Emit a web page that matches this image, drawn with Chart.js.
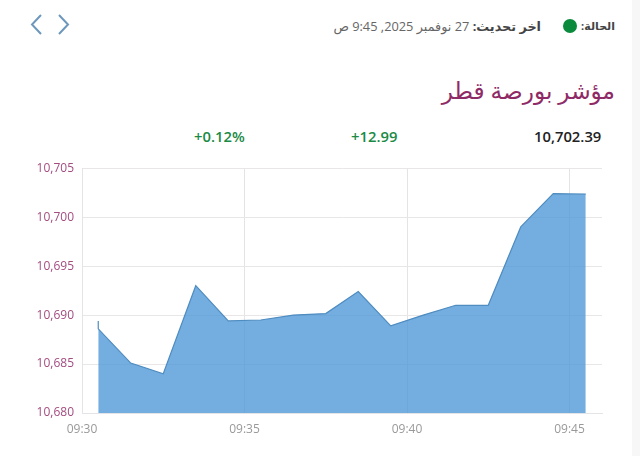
<!DOCTYPE html>
<html lang="ar">
<head>
<meta charset="utf-8">
<title>مؤشر بورصة قطر</title>
<script src="https://cdn.jsdelivr.net/npm/chart.js@4"></script>
<style>
    html, body { margin: 0; padding: 0; background: #fff; }
    body { width: 640px; height: 456px; position: relative; overflow: hidden; font-family: "Open Sans", "DejaVu Sans", sans-serif; }
    .scrollbar { position: absolute; left: 632px; top: 0; width: 8px; height: 456px; background: #f7f7f7; }
    .nav { position: absolute; left: 28px; top: 12px; }
    .status, .updated, .title, .stat { position: absolute; white-space: nowrap; }
    .status { right: 25px; top: 18px; font-size: 11px; color: #444; font-weight: bold; direction: rtl; }
    .dot { position: absolute; left: 563px; top: 19px; width: 14px; height: 14px; border-radius: 50%; background: #0a8a3c; }
    .updated { right: 99px; top: 17px; font-size: 12.800px; color: #666; direction: rtl; }
    .updated b { color: #444; }
    .title { right: 25px; top: 74px; font-size: 23.200px; color: #8e2a66; direction: rtl; }
    .stat { top: 126px; font-size: 14.800px; font-weight: 600; }
    #chart-wrap { position: absolute; left: 0; top: 153px; width: 632px; height: 292px; }
</style>
</head>
<body>
<div class="scrollbar"></div>
<svg class="nav" width="46" height="26" fill="none" stroke="#6d97bd" stroke-width="2">
    <path d="M13 3 L4 12.500 L13 22"/>
    <path d="M31 3 L40 12.500 L31 22"/>
</svg>
<div class="status">الحالة:</div>
<div class="dot"></div>
<div class="updated"><b>اخر تحديث:</b> 27 نوفمبر 2025, 9:45 ص</div>
<div class="title">مؤشر بورصة قطر</div>
<div class="stat" style="left:534px;color:#222">10,702.39</div>
<div class="stat" style="left:351px;color:#1a8a45">+12.99</div>
<div class="stat" style="left:194px;color:#1a8a45">+0.12%</div>
<div id="chart-wrap"><canvas id="chart"></canvas></div>

<script>
// Minutes since midnight for each reading
const times = [570.5, 570.5, 571.5, 572.5, 573.5, 574.5, 575.5, 576.5, 577.5, 578.5, 579.5, 580.5, 581.5, 582.5, 583.5, 584.5, 585.5];
const values = [10689.4, 10688.6, 10685.1, 10684.0, 10693.0, 10689.4, 10689.5, 10690.0, 10690.15, 10692.4, 10688.9, 10690.0, 10691.0, 10691.0, 10699.0, 10702.4, 10702.35];

// Axis ticks
const xMin = 570, xMax = 586, xStep = 5;
const yMin = 10680, yMax = 10705, yStep = 5;

function formatMinutes(value) {
    const h = Math.floor(value / 60);
    const m = value % 60;
    return String(h).padStart(2, '0') + ':' + String(m).padStart(2, '0');
}

new Chart(document.getElementById('chart'), {
    type: 'line',
    data: {
        datasets: [{
            data: times.map((t, i) => ({ x: t, y: values[i] })),
            borderColor: '#4f8cc0',
            borderWidth: 1.2,
            backgroundColor: 'rgba(72, 148, 214, 0.76)',
            fill: 'origin',
            pointRadius: 0,
            tension: 0
        }]
    },
    options: {
        responsive: true,
        maintainAspectRatio: false,
        animation: false,
        layout: { padding: { top: 5, right: 30, bottom: 0, left: 0 } },
        plugins: { legend: { display: false }, tooltip: { enabled: false } },
        scales: {
            x: {
                type: 'linear',
                min: xMin,
                max: xMax,
                afterBuildTicks: axis => {
                    axis.ticks = [];
                    for (let v = xMin; v <= xMax; v += xStep) axis.ticks.push({ value: v });
                },
                afterFit: axis => { axis.height = 32; },
                grid: { color: '#e4e4e8', drawTicks: false },
                border: { color: '#e4e4e8' },
                ticks: {
                    callback: formatMinutes,
                    color: '#999',
                    font: { family: 'Open Sans', size: 12 },
                    padding: 9,
                    maxRotation: 0
                }
            },
            y: {
                min: yMin,
                max: yMax,
                afterFit: axis => { axis.width = 82; },
                grid: { color: '#e9e6e8', drawTicks: false },
                border: { color: '#e4e4e8' },
                ticks: {
                    stepSize: yStep,
                    callback: v => v.toLocaleString('en-US'),
                    color: '#a34c80',
                    font: { family: 'Open Sans', size: 12 },
                    padding: 8
                }
            }
        }
    }
});
</script>
</body>
</html>
